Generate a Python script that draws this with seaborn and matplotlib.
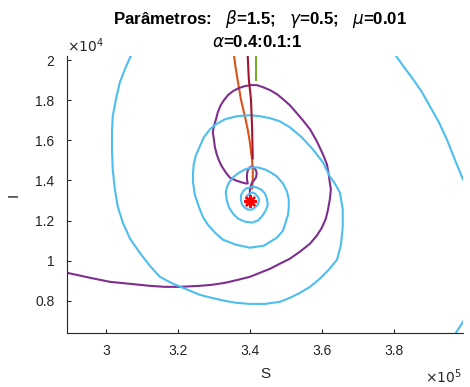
import numpy as np
import pandas as pd
import matplotlib
matplotlib.use("Agg")
import matplotlib.pyplot as plt
import seaborn as sns

# Trajectories (S in units of 1e5, I in units of 1e4)
S_orange = [3.353, 3.356, 3.361, 3.367, 3.375, 3.386, 3.394, 3.400, 3.403, 3.406, 3.408, 3.408, 3.406]
I_orange = [2.080, 2.020, 1.955, 1.890, 1.805, 1.720, 1.655, 1.590, 1.545, 1.505, 1.455, 1.405, 1.355]

S_purple = [2.817, 2.892, 2.956, 3.011, 3.067, 3.122, 3.164, 3.206, 3.261, 3.294,
            3.331, 3.367, 3.400, 3.428, 3.456, 3.483, 3.511, 3.539, 3.567, 3.586,
            3.600, 3.611, 3.617, 3.622, 3.625, 3.622, 3.619, 3.614, 3.603, 3.586,
            3.567, 3.547, 3.528, 3.511, 3.492, 3.475, 3.456, 3.436, 3.419, 3.403,
            3.386, 3.369, 3.353, 3.339, 3.328, 3.319, 3.311, 3.306, 3.300, 3.297,
            3.300, 3.303, 3.308, 3.314, 3.322, 3.333, 3.344, 3.361, 3.378, 3.389,
            3.394, 3.392, 3.392, 3.394, 3.400, 3.406, 3.411, 3.417, 3.419, 3.417,
            3.411, 3.406, 3.403, 3.400, 3.400, 3.400]
I_purple = [0.965, 0.940, 0.915, 0.895, 0.885, 0.875, 0.870, 0.870, 0.875, 0.880,
            0.890, 0.905, 0.920, 0.940, 0.960, 0.985, 1.010, 1.045, 1.085, 1.125,
            1.165, 1.210, 1.255, 1.305, 1.355, 1.390, 1.430, 1.480, 1.530, 1.595,
            1.655, 1.700, 1.740, 1.775, 1.805, 1.830, 1.850, 1.865, 1.875, 1.875,
            1.870, 1.860, 1.845, 1.825, 1.800, 1.775, 1.740, 1.705, 1.670, 1.640,
            1.605, 1.565, 1.530, 1.500, 1.470, 1.440, 1.415, 1.400, 1.390, 1.385,
            1.385, 1.405, 1.430, 1.450, 1.465, 1.470, 1.465, 1.450, 1.435, 1.415,
            1.400, 1.390, 1.375, 1.355, 1.330, 1.305]

S_green = [3.417, 3.417]
I_green = [2.080, 1.895]

S_lblue = [3.900, 3.972, 3.992, 4.033, 4.053, 4.017, 3.992, 3.969, 3.947, 3.925,
           3.900, 3.878, 3.853, 3.828, 3.806, 3.733, 3.539, 3.317, 3.150, 3.069,
           3.053, 3.039, 3.028, 3.019, 3.017, 3.017, 3.019, 3.025, 3.033, 3.047,
           3.067, 3.094, 3.122, 3.150, 3.181, 3.214, 3.261, 3.294, 3.331, 3.364,
           3.400, 3.442, 3.483, 3.511, 3.539, 3.567, 3.594, 3.619, 3.642, 3.653,
           3.658, 3.658, 3.650, 3.636, 3.622, 3.603, 3.575, 3.544, 3.511, 3.483,
           3.456, 3.428, 3.400, 3.364, 3.331, 3.306, 3.289, 3.272, 3.261, 3.250,
           3.244, 3.242, 3.242, 3.247, 3.258, 3.269, 3.283, 3.303, 3.325, 3.361,
           3.400, 3.439, 3.475, 3.492, 3.500, 3.506, 3.508, 3.508, 3.503, 3.492,
           3.475, 3.458, 3.442, 3.422, 3.406, 3.386, 3.367, 3.353, 3.342, 3.336,
           3.333, 3.336, 3.342, 3.353, 3.367, 3.386, 3.406, 3.422, 3.433, 3.444,
           3.450, 3.447, 3.442, 3.431, 3.419, 3.408, 3.400, 3.389, 3.381, 3.375,
           3.375, 3.378, 3.386, 3.394, 3.406, 3.414, 3.422, 3.425, 3.425, 3.419,
           3.414, 3.406, 3.400, 3.392, 3.389, 3.389, 3.392, 3.397, 3.403, 3.408,
           3.408, 3.406, 3.400]
I_lblue = [0.455, 0.640, 0.695, 0.855, 1.105, 1.330, 1.405, 1.505, 1.605, 1.690,
           1.770, 1.840, 1.905, 1.965, 2.020, 2.155, 2.280, 2.255, 2.155, 2.020,
           1.955, 1.890, 1.805, 1.720, 1.640, 1.555, 1.455, 1.355, 1.270, 1.190,
           1.110, 1.040, 0.975, 0.920, 0.890, 0.865, 0.830, 0.815, 0.800, 0.790,
           0.785, 0.785, 0.795, 0.815, 0.840, 0.870, 0.910, 0.955, 1.005, 1.080,
           1.170, 1.255, 1.340, 1.385, 1.420, 1.490, 1.555, 1.615, 1.665, 1.695,
           1.710, 1.720, 1.725, 1.720, 1.705, 1.680, 1.655, 1.615, 1.570, 1.525,
           1.480, 1.435, 1.390, 1.330, 1.270, 1.220, 1.180, 1.140, 1.105, 1.080,
           1.065, 1.075, 1.115, 1.150, 1.195, 1.230, 1.265, 1.305, 1.345, 1.385,
           1.420, 1.440, 1.455, 1.465, 1.465, 1.455, 1.435, 1.415, 1.390, 1.365,
           1.340, 1.300, 1.265, 1.235, 1.210, 1.195, 1.190, 1.200, 1.220, 1.250,
           1.280, 1.310, 1.335, 1.355, 1.365, 1.370, 1.365, 1.360, 1.345, 1.325,
           1.305, 1.280, 1.265, 1.255, 1.255, 1.265, 1.280, 1.295, 1.310, 1.325,
           1.335, 1.340, 1.335, 1.325, 1.315, 1.300, 1.285, 1.280, 1.280, 1.285,
           1.295, 1.305, 1.300]

S_dred = [3.392, 3.394, 3.397, 3.403, 3.406, 3.408]
I_dred = [2.080, 2.020, 1.905, 1.805, 1.670, 1.505]

S_eq = [3.40]
I_eq = [1.30]

x_ticks = [3.0, 3.2, 3.4, 3.6, 3.8]
x_ticklabels = ["3", "3.2", "3.4", "3.6", "3.8"]
y_ticks = [0.8, 1.0, 1.2, 1.4, 1.6, 1.8, 2.0]
y_ticklabels = ["0.8", "1", "1.2", "1.4", "1.6", "1.8", "2"]

sns.set_style("white")
plt.rcParams["font.family"] = ["Liberation Sans", "DejaVu Sans"]
plt.rcParams["mathtext.fontset"] = "dejavusans"

fig = plt.figure(figsize=(4.70, 3.87), dpi=100)
ax = fig.add_axes([67/470, 1-333/387, (463-67)/470, (333-56)/387])

series = [
    (S_orange, I_orange, (0.850, 0.325, 0.098)),
    (S_purple, I_purple, (0.494, 0.184, 0.556)),
    (S_green, I_green, (0.466, 0.674, 0.188)),
    (S_lblue, I_lblue, (0.301, 0.745, 0.933)),
    (S_dred, I_dred, (0.635, 0.078, 0.184)),
]
for s, i, c in series:
    df = pd.DataFrame({"S": s, "I": i})
    sns.lineplot(data=df, x="S", y="I", sort=False, estimator=None,
                 color=c, lw=1.5, ax=ax)
for ln in ax.lines:
    ln.set_solid_joinstyle("round")
    ln.set_solid_capstyle("butt")

ax.plot(S_eq, I_eq, linestyle="none", marker=(8, 2, 0), markersize=9,
        markeredgewidth=1.6, color="red", zorder=5)

ax.set_xlim(2.892, 3.992)
ax.set_ylim(0.64, 2.02)
ax.set_xticks(x_ticks)
ax.set_xticklabels(x_ticklabels)
ax.set_yticks(y_ticks)
ax.set_yticklabels(y_ticklabels)

dark = (0.15, 0.15, 0.15)
for side in ["top", "right"]:
    ax.spines[side].set_visible(False)
for side in ["left", "bottom"]:
    ax.spines[side].set_color(dark)
    ax.spines[side].set_linewidth(0.8)
ax.tick_params(direction="in", length=3, width=0.8, colors=dark,
               labelsize=10, left=True, bottom=True)
ax.tick_params(axis="y", pad=9)
ax.tick_params(axis="x", pad=8)

ax.set_xlabel("S", fontsize=11, color=dark)
ax.xaxis.set_label_coords((265-67)/396, -(367-333)/277)
ax.set_ylabel("I", fontsize=11, color=dark)
ax.yaxis.set_label_coords(-(67-21)/396, 0.5)

fig.text(67/470, 1-46/387, r"$\times10^{4}$", fontsize=10, color=dark,
         ha="left", va="center")
fig.text(462/470, 1-377/387, r"$\times10^{5}$", fontsize=10, color=dark,
         ha="right", va="center")

fig.text(260/470, 1-19/387,
         "Parâmetros:   $\\beta$=1.5;   $\\gamma$=0.5;   $\\mu$=0.01",
         fontsize=12.2, fontweight="bold", ha="center", va="center", color="black")
fig.text(257/470, 1-42/387, r"$\alpha$=0.4:0.1:1",
         fontsize=12.2, fontweight="bold", ha="center", va="center", color="black")

fig.savefig("out.png", dpi=100)
